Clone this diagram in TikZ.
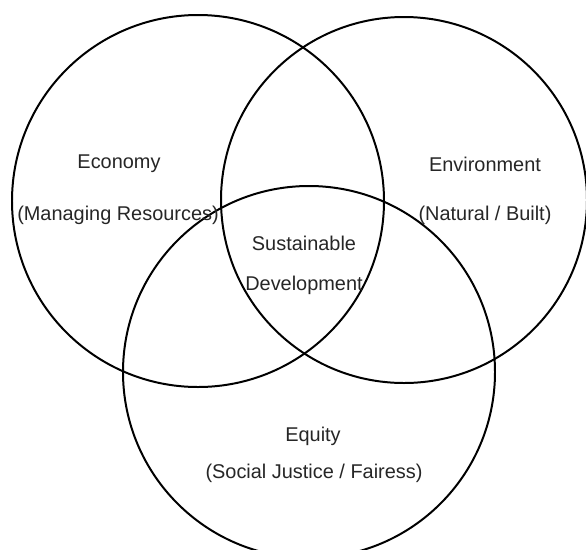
\documentclass[tikz,border=0pt]{standalone}
\usepackage{fontspec}
\setmainfont{Liberation Sans}
\usepackage{tikz}
\usetikzlibrary{positioning}

\tikzset{
  ring/.style={draw=black, line width=1.7pt},
  lbl/.style={text=black!85, font=\fontsize{17}{20}\selectfont, inner sep=1pt}
}

\begin{document}
\begin{tikzpicture}[x=0.03cm, y=-0.03cm]
            \useasboundingbox (0,0) rectangle (586,549);
            \clip (0,0) rectangle (586,549);
            \fill [white] (0,0) rectangle (586,549);

            % the three circles
            \draw [ring] (198,201) circle [radius=186];
            \draw [ring] (404,200) circle [radius=183];
            \draw [ring] (309,372) circle [radius=186];

            \node [lbl] (econ) at (119,164) {Economy};
            \node [lbl] (econsub) at (118,215) {(Managing Resources)};
            \node [lbl] (env) at (485,164) {Environment};
            \node [lbl] (envsub) at (485,215) {(Natural / Built)};
            \node [lbl] (sust) at (304,243) {Sustainable};
            \node [lbl] (dev) at (304,285) {Development};
            \node [lbl] (equity) at (313,436) {Equity};
            \node [lbl] (equitysub) at (314,473) {(Social Justice / Fairess)};
        \end{tikzpicture}
\end{document}
